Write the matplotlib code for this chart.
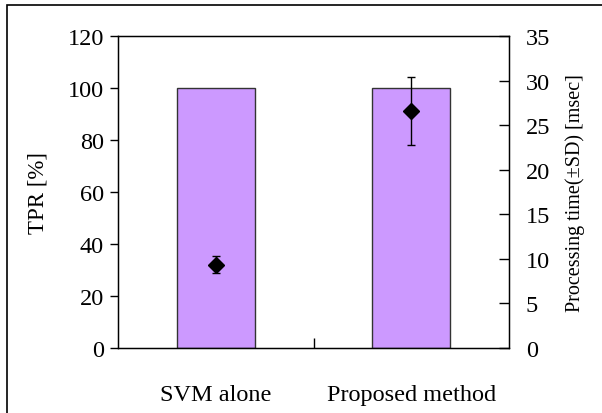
import matplotlib
matplotlib.use("Agg")
import matplotlib.pyplot as plt
from matplotlib.patches import Rectangle
import numpy as np

categories = ["SVM alone", "Proposed method"]
tpr = [100, 100]
proc_time = [9.35, 26.6]
proc_sd = [0.95, 3.8]

plt.rcParams['font.family'] = ['Liberation Serif', 'DejaVu Serif']
plt.rcParams['font.size'] = 17.5

fig = plt.figure(figsize=(6.02, 4.14), dpi=100)
fig.patches.append(Rectangle((7/602, -0.1), 1.2, (414-6)/414 + 0.1, transform=fig.transFigure,
                             fill=False, edgecolor='black', linewidth=1.2, zorder=0))

ax = fig.add_axes([118/602, 65/414, 391/602, 312/414])
x = np.arange(len(categories))
ax.bar(x, tpr, width=0.4, color='#CC99FF', edgecolor='#333333', linewidth=1.0, zorder=2)
ax.set_xlim(-0.5, 1.5)
ax.set_ylim(0, 120)
ax.set_yticks(np.arange(0, 121, 20))
ax.set_xticks(x)
ax.set_xticklabels(categories)
ax.tick_params(axis='x', length=0, pad=26)
ax.set_xticks([0.5], minor=True)
ax.tick_params(axis='x', which='minor', direction='in', length=7, width=1)
ax.tick_params(axis='y', direction='out', length=6, width=1, pad=4)
ax.set_ylabel("TPR [%]", fontsize=16.5, labelpad=14)
for s in ax.spines.values():
    s.set_linewidth(1.0)

ax2 = ax.twinx()
ax2.set_ylim(0, 35)
ax2.set_yticks(np.arange(0, 36, 5))
ax2.tick_params(axis='y', direction='in', length=7, width=1, pad=12)
ax2.errorbar(x, proc_time, yerr=proc_sd, fmt='D', color='black', markersize=8.5,
             ecolor='black', elinewidth=1, capsize=3, capthick=1, zorder=3)
ax2.set_ylabel("Processing time(±SD) [msec]", fontsize=14.5, labelpad=11)

fig.savefig("out.png", dpi=100)
